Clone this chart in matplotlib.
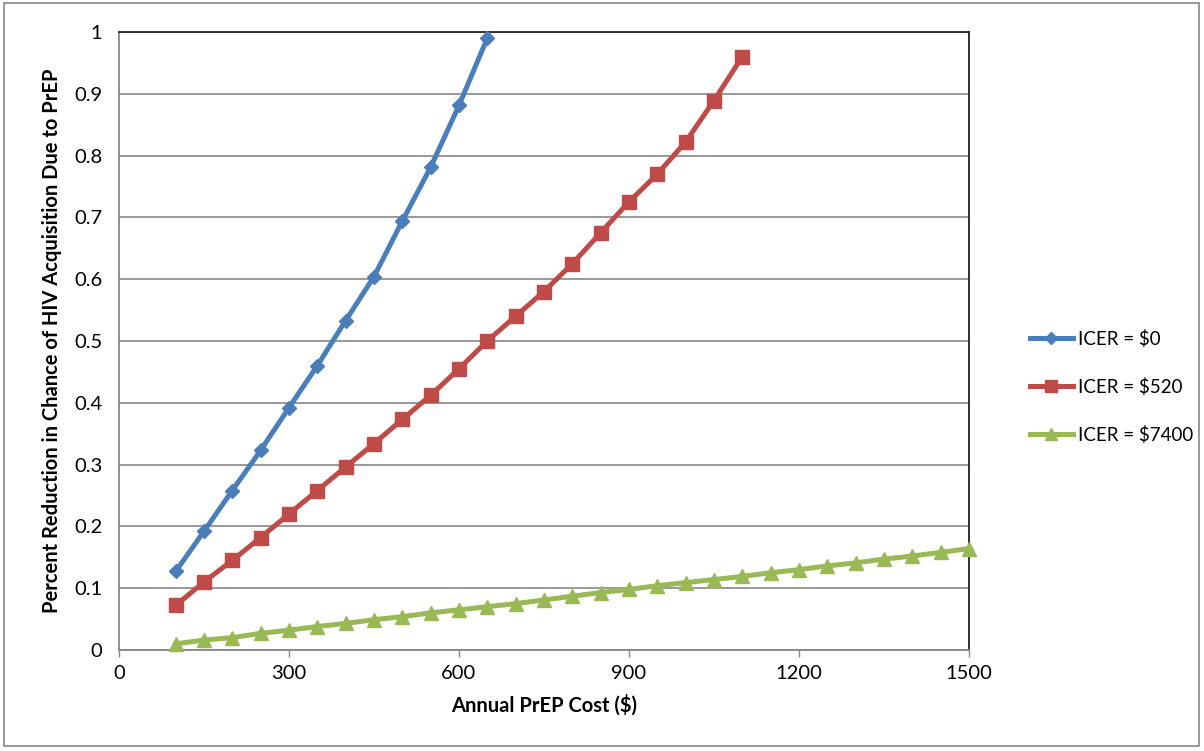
import matplotlib.pyplot as plt
from matplotlib.lines import Line2D
from matplotlib.patches import Rectangle

plt.rcParams['font.family'] = ['Lato', 'DejaVu Sans']

# Annual PrEP cost ($)
cost_icer0 = [100, 150, 200, 250, 300, 350, 400, 450, 500, 550, 600, 650]
cost_icer520 = [100, 150, 200, 250, 300, 350, 400, 450, 500, 550, 600,
                650, 700, 750, 800, 850, 900, 950, 1000, 1050, 1100]
cost_icer7400 = [100, 150, 200, 250, 300, 350, 400, 450, 500, 550, 600,
                 650, 700, 750, 800, 850, 900, 950, 1000, 1050, 1100,
                 1150, 1200, 1250, 1300, 1350, 1400, 1450, 1500]

# Percent reduction in chance of HIV acquisition
red_icer0 = [0.127, 0.192, 0.258, 0.323, 0.392, 0.460, 0.533, 0.604,
             0.694, 0.781, 0.881, 0.990]
red_icer520 = [0.072, 0.110, 0.145, 0.182, 0.220, 0.258, 0.296, 0.334,
               0.373, 0.412, 0.455, 0.500, 0.540, 0.580, 0.625, 0.675,
               0.725, 0.770, 0.822, 0.889, 0.960]
red_icer7400 = [0.010, 0.016, 0.020, 0.027, 0.032, 0.038, 0.043, 0.049,
                0.054, 0.060, 0.065, 0.070, 0.075, 0.081, 0.087, 0.093,
                0.098, 0.104, 0.109, 0.114, 0.119, 0.125, 0.130, 0.136,
                0.141, 0.147, 0.152, 0.158, 0.164]

labels = ['ICER = $0', 'ICER = $520', 'ICER = $7400']
colors = ['#4a7ebb', '#be4b48', '#98b954']
markers = ['D', 's', '^']
sizes = [7, 9.5, 9.5]

fig = plt.figure(figsize=(12.04, 7.51), dpi=100)
ax = fig.add_axes([0.0988, 0.1345, 0.706, 0.823])

series = [(cost_icer0, red_icer0), (cost_icer520, red_icer520), (cost_icer7400, red_icer7400)]
for (x, y), lab, c, m, s in zip(series, labels, colors, markers, sizes):
    ax.plot(x, y, color=c, lw=3.6, marker=m, ms=s, label=lab, clip_on=False, zorder=3)

ax.set_xlim(0, 1500)
ax.set_ylim(0, 1)
ax.set_xticks(range(0, 1501, 300))
ax.set_yticks([i / 10 for i in range(11)])
ax.set_yticklabels(['0'] + ['%.1f' % (i / 10) for i in range(1, 10)] + ['1'])
ax.grid(axis='y', color='#878787', lw=1.2)
ax.set_axisbelow(True)
ax.tick_params(axis='both', labelsize=14.5, colors='black', length=5, width=1, direction='out', pad=6)
ax.tick_params(axis='x', color='#878787')
ax.tick_params(axis='y', length=0, pad=12)
ax.spines['left'].set_color('#878787')
ax.spines['bottom'].set_color('#878787')
ax.spines['top'].set_color('#222222')
ax.spines['right'].set_color('#222222')
for sp in ax.spines.values():
    sp.set_linewidth(1.3)

ax.set_xlabel('Annual PrEP Cost ($)', fontsize=14.5, fontweight='bold', labelpad=9)
ax.set_ylabel('Percent Reduction in Chance of HIV Acquisition Due to PrEP', fontsize=14.5,
              fontweight='bold', labelpad=9)

handles = [Line2D([], [], color=c, lw=3.6, marker=m, ms=s * 0.9)
           for c, m, s in zip(colors, markers, sizes)]
fig.legend(handles, labels, loc='center left', bbox_to_anchor=(0.849, 0.485),
           frameon=False, fontsize=13.5, handlelength=2.3, handletextpad=0.25,
           labelspacing=1.6, borderaxespad=0)

fig.patches.append(Rectangle((0.003, 0.006), 0.993, 0.99, transform=fig.transFigure,
                             fill=False, edgecolor='#878787', lw=1.2))

fig.savefig('out.png', dpi=100)
